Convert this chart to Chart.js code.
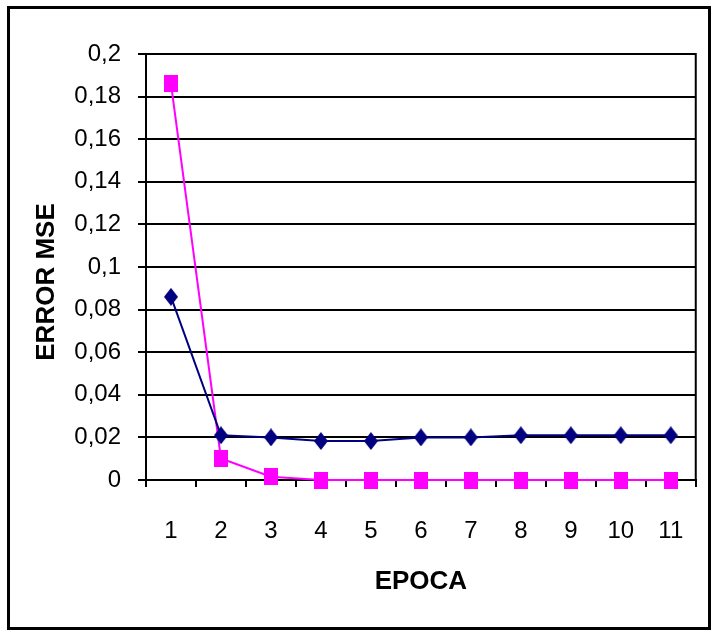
<!DOCTYPE html>
<html>
<head>
<meta charset="utf-8">
<script src="https://cdn.jsdelivr.net/npm/chart.js@4/dist/chart.umd.min.js"></script>
<style>
  html, body { margin: 0; padding: 0; background: #fff; }
  #wrap { width: 714px; height: 633px; }
</style>
</head>
<body>
<div id="wrap"><canvas id="c" width="714" height="633"></canvas></div>
<script>
// Training epochs and mean squared error per epoch
const epochs = ['1', '2', '3', '4', '5', '6', '7', '8', '9', '10', '11'];
const errorSeriesA = [0.086, 0.021, 0.020, 0.0183, 0.0183, 0.020, 0.020, 0.021, 0.021, 0.021, 0.021];
const errorSeriesB = [0.186, 0.0101, 0.0015, 0, 0, 0, 0, 0, 0, 0, 0];
const yTickLabels = ['0', '0,02', '0,04', '0,06', '0,08', '0,1', '0,12', '0,14', '0,16', '0,18', '0,2'];
const yTitle = 'ERROR MSE';
const xTitle = 'EPOCA';

// Marker images (slightly taller than wide)
function makeMarker(kind, color, w, h) {
  const cv = document.createElement('canvas');
  cv.width = w; cv.height = h;
  const g = cv.getContext('2d');
  g.fillStyle = color;
  if (kind === 'diamond') {
    g.beginPath();
    g.moveTo(w / 2, 0);
    g.lineTo(w, h / 2);
    g.lineTo(w / 2, h);
    g.lineTo(0, h / 2);
    g.closePath();
    g.fill();
  } else {
    g.fillRect(0, 0, w, h);
  }
  return cv;
}
const diamond = makeMarker('diamond', '#000080', 14, 18);
const square = makeMarker('square', '#FF00FF', 14, 17);

const fontFamily = '"Liberation Sans", Arial, sans-serif';

// Outer frame, plot-area right edge and vertical axis title
const framePlugin = {
  id: 'frame',
  beforeDatasetsDraw(chart) {
    const { ctx, chartArea } = chart;
    ctx.save();
    ctx.strokeStyle = '#000';
    ctx.lineWidth = 2;
    ctx.beginPath();
    ctx.moveTo(chartArea.right, chartArea.top - 1);
    ctx.lineTo(chartArea.right, chartArea.bottom);
    ctx.stroke();
    ctx.restore();
  },
  afterDraw(chart) {
    const { ctx, chartArea } = chart;
    ctx.save();
    ctx.strokeStyle = '#000';
    ctx.lineWidth = 3;
    ctx.strokeRect(8.5, 7.5, 701, 621);
    // vertical title
    ctx.translate(47, (chartArea.top + chartArea.bottom) / 2 + 15);
    ctx.rotate(-Math.PI / 2);
    ctx.fillStyle = '#000';
    ctx.font = 'bold 26px ' + fontFamily;
    ctx.textAlign = 'center';
    ctx.textBaseline = 'middle';
    ctx.fillText(yTitle, 0, 0);
    ctx.restore();
  }
};

const tickFont = { family: fontFamily, size: 24 };

new Chart(document.getElementById('c'), {
  type: 'line',
  data: {
    labels: epochs,
    datasets: [
      {
        label: 'Serie 1',
        data: errorSeriesA,
        borderColor: '#000080',
        backgroundColor: '#000080',
        borderWidth: 2,
        pointStyle: diamond,
        tension: 0,
        clip: false
      },
      {
        label: 'Serie 2',
        data: errorSeriesB,
        borderColor: '#FF00FF',
        backgroundColor: '#FF00FF',
        borderWidth: 2,
        pointStyle: square,
        tension: 0,
        clip: false
      }
    ]
  },
  options: {
    responsive: false,
    animation: false,
    devicePixelRatio: 1,
    layout: { padding: { top: 54, right: 17, bottom: 0, left: 0 } },
    plugins: {
      legend: { display: false },
      tooltip: { enabled: false },
      title: { display: false }
    },
    scales: {
      x: {
        offset: true,
        grid: {
          offset: true,
          drawOnChartArea: false,
          drawTicks: true,
          tickLength: 7,
          color: '#000',
          lineWidth: 2
        },
        border: { display: true, color: '#000', width: 2 },
        ticks: { color: '#000', font: tickFont, padding: 30, maxRotation: 0 },
        title: {
          display: true,
          text: xTitle,
          color: '#000',
          font: { family: fontFamily, size: 26, weight: 'bold' },
          padding: { top: 0, bottom: 36 }
        },
        afterFit(scale) { scale.height = 153; }
      },
      y: {
        min: 0,
        max: 0.2,
        ticks: {
          stepSize: 0.02,
          color: '#000',
          font: tickFont,
          padding: 17,
          callback: (v) => yTickLabels[Math.round(v / 0.02)]
        },
        grid: {
          color: '#000',
          lineWidth: 2,
          tickLength: 8,
          drawTicks: true
        },
        border: { display: true, color: '#000', width: 2 },
        afterFit(scale) { scale.width = 146; }
      }
    }
  },
  plugins: [framePlugin]
});
</script>
</body>
</html>
